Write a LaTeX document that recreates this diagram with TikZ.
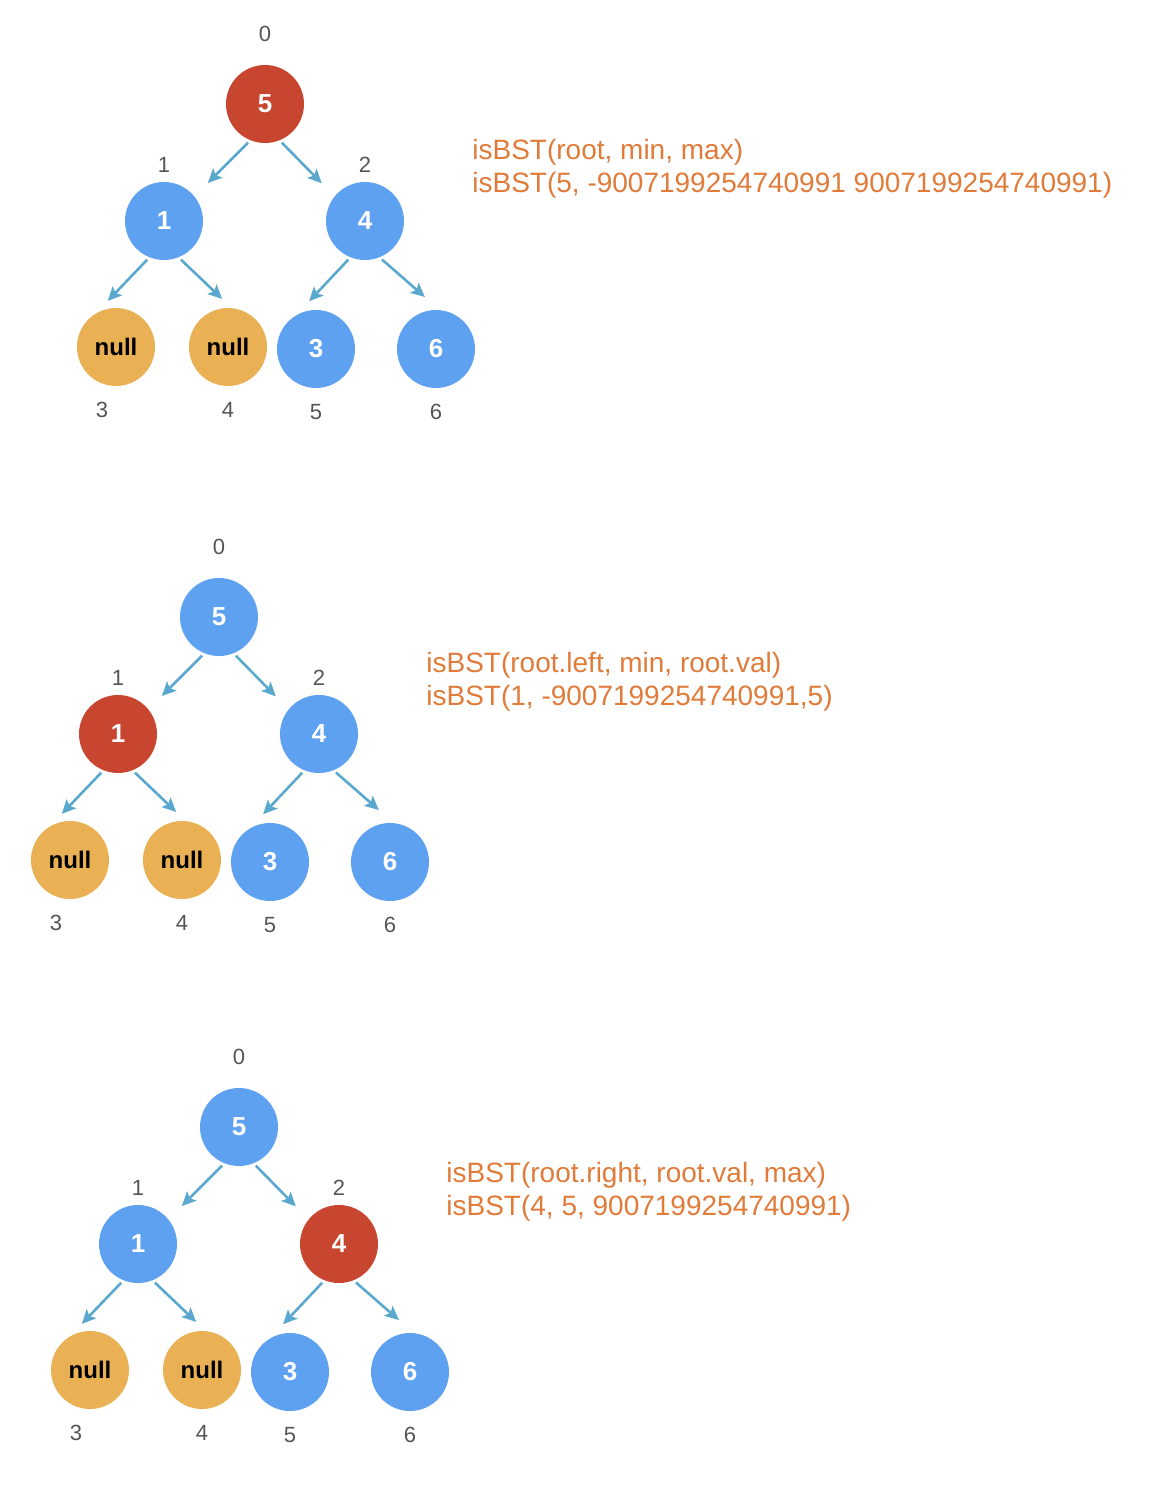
\documentclass[tikz,border=0pt]{standalone}
\usepackage{fontspec}
\setmainfont{Liberation Sans}
\usetikzlibrary{arrows.meta,calc}

\definecolor{nodered}{HTML}{C8462F}
\definecolor{nodeblue}{HTML}{5EA1F0}
\definecolor{nullyellow}{HTML}{E9B154}
\definecolor{arrowblue}{HTML}{5BA8CE}
\definecolor{callorange}{HTML}{E07B3A}
\definecolor{idxgrey}{HTML}{555555}

\tikzset{
  treenode/.style={circle, minimum size=39pt, inner sep=0pt,
                   font=\fontsize{13}{15}\selectfont\bfseries, text=white},
  bluenode/.style={treenode, fill=nodeblue},
  rednode/.style={treenode, fill=nodered},
  nullnode/.style={treenode, fill=nullyellow, text=black,
                   font=\fontsize{12}{14}\selectfont\bfseries},
  idx/.style={text=idxgrey, font=\fontsize{11}{13}\selectfont, inner sep=0pt},
  call/.style={text=callorange, anchor=west, align=left, inner sep=0pt,
               font=\fontsize{14}{16.5}\selectfont},
  childarrow/.style={-{Stealth[length=7pt,width=6.5pt,inset=1.5pt]},
                     draw=arrowblue, line width=1.3pt, shorten <=1.5pt},
}

\begin{document}
\begin{tikzpicture}[x=0.5pt,y=-0.5pt]

    \useasboundingbox (0,0) rectangle (1162,1508);

    % first call: the root
    \begin{scope}[shift={(0,0)}]
    \node[rednode] (A0) at (265,104) {5};
    \node[bluenode] (A1) at (164,221) {1};
    \node[bluenode] (A2) at (365,221) {4};
    \node[nullnode] (A3) at (116,347) {null};
    \node[nullnode] (A4) at (228,347) {null};
    \node[bluenode] (A5) at (316,349) {3};
    \node[bluenode] (A6) at (436,349) {6};

    \node[idx] (A0i) at (265,34) {0};
    \node[idx] (A1i) at (164,165) {1};
    \node[idx] (A2i) at (365,165) {2};
    \node[idx] (A3i) at (102,410) {3};
    \node[idx] (A4i) at (228,410) {4};
    \node[idx] (A5i) at (316,412) {5};
    \node[idx] (A6i) at (436,412) {6};

    \draw[childarrow] (A0.-112) -- ($(A0.-112)!30pt!(A1.39)$);
    \draw[childarrow] (A0.-68) -- ($(A0.-68)!30pt!(A2.141)$);
    \draw[childarrow] (A1.-112) -- ($(A1.-112)!30pt!(A3.120)$);
    \draw[childarrow] (A1.-68) -- ($(A1.-68)!30pt!(A4.85)$);
    \draw[childarrow] (A2.-112) -- ($(A2.-112)!30pt!(A5.120)$);
    \draw[childarrow] (A2.-68) -- ($(A2.-68)!30pt!(A6.85)$);

    \node[call] (Acall) at (472,169)
        {isBST(root, min, max)\\isBST(5, -9007199254740991 9007199254740991)};
    \end{scope}

    % second call: the left subtree
    \begin{scope}[shift={(-46,513)}]
    \node[bluenode] (B0) at (265,104) {5};
    \node[rednode] (B1) at (164,221) {1};
    \node[bluenode] (B2) at (365,221) {4};
    \node[nullnode] (B3) at (116,347) {null};
    \node[nullnode] (B4) at (228,347) {null};
    \node[bluenode] (B5) at (316,349) {3};
    \node[bluenode] (B6) at (436,349) {6};

    \node[idx] (B0i) at (265,34) {0};
    \node[idx] (B1i) at (164,165) {1};
    \node[idx] (B2i) at (365,165) {2};
    \node[idx] (B3i) at (102,410) {3};
    \node[idx] (B4i) at (228,410) {4};
    \node[idx] (B5i) at (316,412) {5};
    \node[idx] (B6i) at (436,412) {6};

    \draw[childarrow] (B0.-112) -- ($(B0.-112)!30pt!(B1.39)$);
    \draw[childarrow] (B0.-68) -- ($(B0.-68)!30pt!(B2.141)$);
    \draw[childarrow] (B1.-112) -- ($(B1.-112)!30pt!(B3.120)$);
    \draw[childarrow] (B1.-68) -- ($(B1.-68)!30pt!(B4.85)$);
    \draw[childarrow] (B2.-112) -- ($(B2.-112)!30pt!(B5.120)$);
    \draw[childarrow] (B2.-68) -- ($(B2.-68)!30pt!(B6.85)$);

    \node[call] (Bcall) at (472,169)
        {isBST(root.left, min, root.val)\\isBST(1, -9007199254740991,5)};
    \end{scope}

    % third call: the right subtree
    \begin{scope}[shift={(-26,1023)}]
    \node[bluenode] (C0) at (265,104) {5};
    \node[bluenode] (C1) at (164,221) {1};
    \node[rednode] (C2) at (365,221) {4};
    \node[nullnode] (C3) at (116,347) {null};
    \node[nullnode] (C4) at (228,347) {null};
    \node[bluenode] (C5) at (316,349) {3};
    \node[bluenode] (C6) at (436,349) {6};

    \node[idx] (C0i) at (265,34) {0};
    \node[idx] (C1i) at (164,165) {1};
    \node[idx] (C2i) at (365,165) {2};
    \node[idx] (C3i) at (102,410) {3};
    \node[idx] (C4i) at (228,410) {4};
    \node[idx] (C5i) at (316,412) {5};
    \node[idx] (C6i) at (436,412) {6};

    \draw[childarrow] (C0.-112) -- ($(C0.-112)!30pt!(C1.39)$);
    \draw[childarrow] (C0.-68) -- ($(C0.-68)!30pt!(C2.141)$);
    \draw[childarrow] (C1.-112) -- ($(C1.-112)!30pt!(C3.120)$);
    \draw[childarrow] (C1.-68) -- ($(C1.-68)!30pt!(C4.85)$);
    \draw[childarrow] (C2.-112) -- ($(C2.-112)!30pt!(C5.120)$);
    \draw[childarrow] (C2.-68) -- ($(C2.-68)!30pt!(C6.85)$);

    \node[call] (Ccall) at (472,169)
        {isBST(root.right, root.val, max)\\isBST(4, 5, 9007199254740991)};
    \end{scope}

\end{tikzpicture}
\end{document}
